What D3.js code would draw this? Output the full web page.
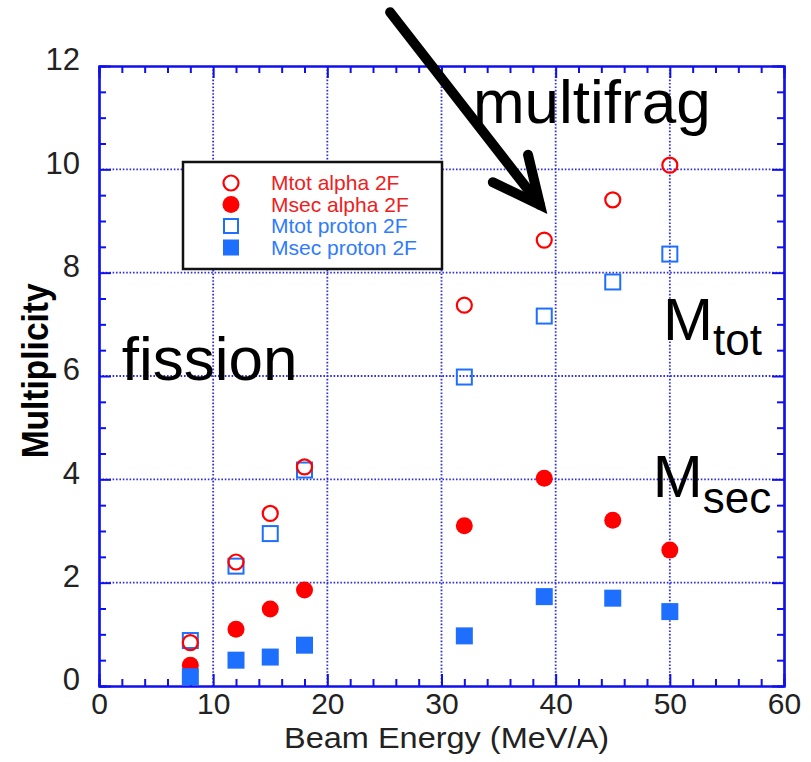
<!DOCTYPE html>
<html>
<head>
<meta charset="utf-8">
<script src="https://cdn.jsdelivr.net/npm/d3@7"></script>
<style>
  html, body { margin: 0; padding: 0; background: #fff; }
  text { font-family: "Liberation Sans", Arial, Helvetica, sans-serif; }
</style>
</head>
<body>
<div id="chart"></div>
<script>
// beam energies (MeV/A) and multiplicities
const energies = [8, 12, 15, 18, 32, 39, 45, 50];
const mtotAlpha = [0.84, 2.40, 3.34, 4.24, 7.37, 8.63, 9.41, 10.08];
const msecAlpha = [0.40, 1.10, 1.49, 1.86, 3.10, 4.02, 3.21, 2.63];
const mtotProton = [0.88, 2.32, 2.95, 4.18, 5.98, 7.16, 7.82, 8.36];
const msecProton = [0.18, 0.50, 0.56, 0.79, 0.97, 1.73, 1.70, 1.44];

const seriesNames = ["Mtot alpha 2F", "Msec alpha 2F", "Mtot proton 2F", "Msec proton 2F"];
const xTicks = [0, 10, 20, 30, 40, 50, 60];
const yTicks = [0, 2, 4, 6, 8, 10, 12];

const W = 811, H = 762;
const margin = { top: 66, right: 27, bottom: 76, left: 99 };
const width = W - margin.left - margin.right;
const height = H - margin.top - margin.bottom;

const RED = "#ff0000", BLUE = "#1f6fff";
const AXIS = "#1010ee", GRID = "#3030dd";

const svg = d3.select("#chart").append("svg")
  .attr("width", W)
  .attr("height", H);

const g = svg.append("g")
  .attr("transform", "translate(" + margin.left + "," + margin.top + ")");

const x = d3.scaleLinear().domain([0, 60]).range([0, width]);
const y = d3.scaleLinear().domain([0, 12]).range([height, 0]);

// dotted grid
g.append("g").selectAll("line")
  .data(xTicks.slice(1, -1))
  .enter().append("line")
  .attr("x1", d => x(d)).attr("x2", d => x(d))
  .attr("y1", 0).attr("y2", height)
  .attr("stroke", GRID).attr("stroke-width", 1.8)
  .attr("stroke-dasharray", "1.6,1.8");

g.append("g").selectAll("line")
  .data(yTicks.slice(1, -1))
  .enter().append("line")
  .attr("y1", d => y(d)).attr("y2", d => y(d))
  .attr("x1", 0).attr("x2", width)
  .attr("stroke", GRID).attr("stroke-width", 1.8)
  .attr("stroke-dasharray", "1.6,1.8");

// axes: ticks point inward on all four sides
const minorX = d3.range(0, 61, 2).filter(v => v % 10 !== 0);
const minorY = d3.range(0, 12.01, 0.5).filter(v => v % 2 !== 0);

function styleAxis(sel) {
  sel.select(".domain").attr("stroke", AXIS).attr("stroke-width", 2.2);
  sel.selectAll(".tick line").attr("stroke", AXIS).attr("stroke-width", 2);
}

const bottom = g.append("g")
  .attr("transform", "translate(0," + height + ")")
  .call(d3.axisBottom(x).tickValues(xTicks).tickSizeInner(-12).tickSizeOuter(0).tickPadding(7));
bottom.call(styleAxis);
bottom.selectAll(".tick text")
  .attr("fill", "#222").style("font-size", "30px");

g.append("g")
  .attr("transform", "translate(0," + height + ")")
  .call(d3.axisBottom(x).tickValues(minorX).tickSize(-7).tickFormat(""))
  .call(styleAxis);

const left = g.append("g")
  .call(d3.axisLeft(y).tickValues(yTicks).tickSizeInner(-12).tickSizeOuter(0).tickPadding(19));
left.call(styleAxis);
left.selectAll(".tick text")
  .attr("fill", "#222").attr("dy", "0.12em").style("font-size", "31px");

g.append("g")
  .call(d3.axisLeft(y).tickValues(minorY).tickSize(-7).tickFormat(""))
  .call(styleAxis);

g.append("g")
  .call(d3.axisTop(x).tickValues(xTicks).tickSizeInner(-12).tickSizeOuter(0).tickFormat(""))
  .call(styleAxis);
g.append("g")
  .call(d3.axisTop(x).tickValues(minorX).tickSize(-7).tickFormat(""))
  .call(styleAxis);

g.append("g")
  .attr("transform", "translate(" + width + ",0)")
  .call(d3.axisRight(y).tickValues(yTicks).tickSizeInner(-12).tickSizeOuter(0).tickFormat(""))
  .call(styleAxis);
g.append("g")
  .attr("transform", "translate(" + width + ",0)")
  .call(d3.axisRight(y).tickValues(minorY).tickSize(-7).tickFormat(""))
  .call(styleAxis);

// axis titles
svg.append("text")
  .attr("x", margin.left + x(30) + 5)
  .attr("y", 748)
  .attr("text-anchor", "middle")
  .attr("fill", "#222")
  .attr("textLength", 325)
  .attr("lengthAdjust", "spacingAndGlyphs")
  .style("font-size", "29px")
  .text("Beam Energy (MeV/A)");

svg.append("text")
  .attr("transform", "translate(48," + (margin.top + y(6.1)) + ") rotate(-90)")
  .attr("text-anchor", "middle")
  .attr("fill", "#000")
  .attr("textLength", 175)
  .attr("lengthAdjust", "spacingAndGlyphs")
  .style("font-size", "36px")
  .style("font-weight", "bold")
  .text("Multiplicity");

// data points
const pts = arr => energies.map((e, i) => ({ e: e, v: arr[i] }));
const SZ = 17;

function squares(data, filled) {
  g.append("g").selectAll("rect")
    .data(data)
    .enter().append("rect")
    .attr("x", d => x(d.e) - (filled ? SZ / 2 : SZ / 2 - 1))
    .attr("y", d => y(d.v) - (filled ? SZ / 2 : SZ / 2 - 1))
    .attr("width", filled ? SZ : SZ - 2)
    .attr("height", filled ? SZ : SZ - 2)
    .attr("fill", filled ? BLUE : "none")
    .attr("stroke", filled ? "none" : BLUE)
    .attr("stroke-width", 2);
}

function circles(data, filled) {
  g.append("g").selectAll("circle")
    .data(data)
    .enter().append("circle")
    .attr("cx", d => x(d.e))
    .attr("cy", d => y(d.v))
    .attr("r", filled ? SZ / 2 : SZ / 2 - 1)
    .attr("fill", filled ? RED : "none")
    .attr("stroke", filled ? "none" : RED)
    .attr("stroke-width", 2.2);
}

squares(pts(mtotProton), false);
circles(pts(mtotAlpha), false);
circles(pts(msecAlpha), true);
squares(pts(msecProton), true);

// legend
const legend = svg.append("g")
  .attr("transform", "translate(183,162)");

legend.append("rect")
  .attr("width", 259).attr("height", 107)
  .attr("fill", "#fff").attr("stroke", "#111").attr("stroke-width", 2.5);

const legendColors = ["#ee2020", "#ee2020", "#2f7bff", "#2f7bff"];
const items = legend.selectAll(".legend-item")
  .data(seriesNames)
  .enter().append("g")
  .attr("class", "legend-item")
  .attr("transform", (d, i) => "translate(0," + (21 + i * 21.5) + ")");

items.each(function (d, i) {
  const it = d3.select(this);
  if (i < 2) {
    it.append("circle")
      .attr("cx", 48).attr("cy", 0)
      .attr("r", i === 0 ? 7.5 : 8.5)
      .attr("fill", i === 0 ? "none" : RED)
      .attr("stroke", i === 0 ? RED : "none")
      .attr("stroke-width", 2.2);
  } else {
    it.append("rect")
      .attr("x", i === 2 ? 41 : 40).attr("y", i === 2 ? -7 : -8)
      .attr("width", i === 2 ? 14 : 16).attr("height", i === 2 ? 14 : 16)
      .attr("fill", i === 2 ? "none" : BLUE)
      .attr("stroke", i === 2 ? BLUE : "none")
      .attr("stroke-width", 2);
  }
});

items.append("text")
  .attr("x", 88)
  .attr("y", 7)
  .attr("fill", (d, i) => legendColors[i])
  .style("font-size", "21px")
  .text(d => d);

// annotations, placed in data coordinates
const ann = g.append("g").attr("fill", "#000");

ann.append("text")
  .attr("x", x(32.75)).attr("y", y(10.9))
  .style("font-size", "62px")
  .text("multifrag");

ann.append("text")
  .attr("x", x(2.0)).attr("y", y(5.92))
  .style("font-size", "62px")
  .text("fission");

const mtot = ann.append("text")
  .attr("x", x(49.4)).attr("y", y(6.7))
  .style("font-size", "60px");
mtot.append("tspan").text("M");
mtot.append("tspan").attr("dy", 15).style("font-size", "44px").text("tot");

const msec = ann.append("text")
  .attr("x", x(48.5)).attr("y", y(3.66))
  .style("font-size", "60px");
msec.append("tspan").text("M");
msec.append("tspan").attr("dy", 16).style("font-size", "44px").text("sec");

// arrow pointing at the multifragmentation onset
const arrow = d3.line().x(d => x(d[0])).y(d => y(d[1]));
ann.append("path")
  .attr("d", arrow([[25.5, 13.04], [38.63, 9.31]]))
  .attr("fill", "none").attr("stroke", "#000")
  .attr("stroke-width", 10).attr("stroke-linecap", "round");
ann.append("path")
  .attr("d", arrow([[34.5, 9.75], [38.63, 9.31], [37.58, 10.28]]))
  .attr("fill", "none").attr("stroke", "#000")
  .attr("stroke-width", 10).attr("stroke-linecap", "round").attr("stroke-linejoin", "miter");
</script>
</body>
</html>
